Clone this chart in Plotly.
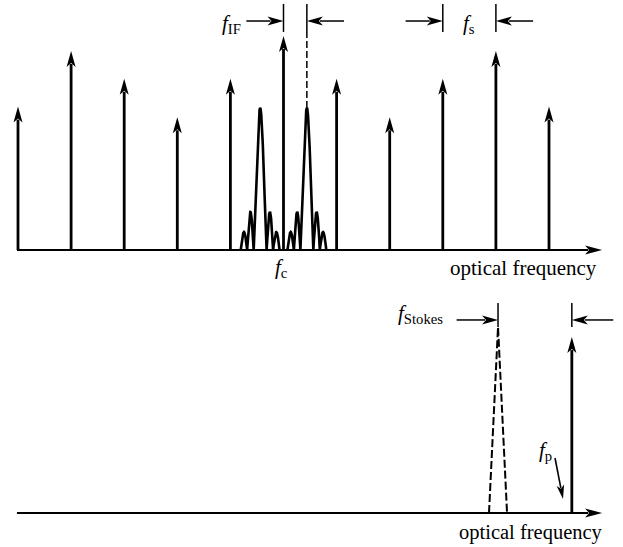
import numpy as np
import plotly.graph_objects as go

# ---- top panel: optical frequency comb (x in units of the comb spacing f_s) ----
comb_pos = [0, 1, 2, 3, 4, 5, 6, 7, 8, 9, 10]
comb_amp = [0.67, 0.93, 0.80, 0.62, 0.80, 1.00, 0.80, 0.62, 0.80, 0.93, 0.67]
f_c = 5.0            # carrier (comb line under the f_c label)
f_IF = 0.44          # intermediate-frequency offset of the two beat spectra
lobe_heights = [0.664, 0.178, 0.084]   # main lobe, 1st and 2nd side lobes
lobe_width = 0.122                     # width of one side lobe
marker_low, marker_high, marker_arrow_y = 1.019, 1.15, 1.07
marker_arrow_len = 0.70

# ---- bottom panel: Brillouin pump and Stokes line ----
f_p = 10.43
pump_amp = 0.822
f_stokes = 9.04
stokes_amp = 0.869
stokes_halfwidth = 0.17
b_marker_low, b_marker_high, b_marker_arrow_y = 0.869, 0.981, 0.902
b_marker_arrow_len = 0.78

axis_start, axis_end = -0.02, 11.0

PX_X = 53.1     # pixels per frequency unit
PX_Y = 214.0    # pixels per amplitude unit
FONT = "Liberation Serif"
BLACK = "#000000"

fig = go.Figure()


def line(xs, ys, panel, width=2.5, dash=None):
    fig.add_trace(go.Scatter(
        x=xs, y=ys, mode="lines", xaxis="x" if panel == 1 else "x2",
        yaxis="y" if panel == 1 else "y2", hoverinfo="skip", showlegend=False,
        line=dict(color=BLACK, width=width, dash=dash, shape="linear")))


def head(x, y, panel, angle, length=16.0, half=4.5, notch=4.0):
    """Filled arrowhead with its tip at (x, y); angle in degrees (0 = right, 90 = up)."""
    pts = [(0, 0), (-length, half), (-length + notch, 0), (-length, -half)]
    a = np.radians(angle)
    c, s = np.cos(a), np.sin(a)
    rot = [(px * c - py * s, px * s + py * c) for px, py in pts]
    path = "M" + " L".join(f"{px:.2f},{py:.2f}" for px, py in rot) + " Z"
    fig.add_shape(type="path", xref="x" if panel == 1 else "x2",
                  yref="y" if panel == 1 else "y2",
                  xsizemode="pixel", ysizemode="pixel", xanchor=x, yanchor=y,
                  path=path, fillcolor=BLACK, line=dict(width=0), layer="above")


def arrow(x0, y0, x1, y1, panel, width=2.5, length=16.0, half=4.5, notch=4.0):
    """Line from (x0, y0) to (x1, y1) finished by an arrowhead at the end point."""
    dxp = (x1 - x0) * PX_X
    dyp = (y1 - y0) * PX_Y
    dist = np.hypot(dxp, dyp)
    back = (length - notch) + 1.0
    xe = x1 - (x1 - x0) * back / dist
    ye = y1 - (y1 - y0) * back / dist
    line([x0, xe], [y0, ye], panel, width)
    head(x1, y1, panel, np.degrees(np.arctan2(dyp, dxp)), length, half, notch)


def label(x, y, text, panel, size=20, xanchor="center"):
    fig.add_annotation(x=x, y=y, xref="x" if panel == 1 else "x2",
                       yref="y" if panel == 1 else "y2", text=text, showarrow=False,
                       xanchor=xanchor, yanchor="middle",
                       font=dict(family=FONT, size=size, color=BLACK))


# ---------------- top panel ----------------
arrow(axis_start, 0, axis_end, 0, 1, width=2.0, length=17)
for xp, amp in zip(comb_pos, comb_amp):
    arrow(xp, 0, xp, amp, 1, width=2.8)

# sinc-like beat spectra at f_c - f_IF and f_c + f_IF
n_side = len(lobe_heights) - 1
u = np.linspace(-(n_side + 1), n_side + 1, 1201)
env = np.empty_like(u)
for i, uu in enumerate(u):
    k = int(np.floor(abs(uu)))
    if k == 0:
        env[i] = lobe_heights[0] * np.sinc(uu)
    else:
        env[i] = lobe_heights[min(k, n_side)] * abs(np.sin(np.pi * uu))
for centre in (f_c - f_IF, f_c + f_IF):
    line(list(centre + u * lobe_width), list(env), 1, width=2.6)

# f_IF spacing marker
line([f_c, f_c], [marker_low, marker_high], 1, width=1.5)
line([f_c + f_IF, f_c + f_IF], [marker_low, marker_high], 1, width=1.5)
line([f_c + f_IF, f_c + f_IF], [lobe_heights[0], marker_low], 1, width=1.5, dash="7px,3px")
arrow(f_c - marker_arrow_len, marker_arrow_y, f_c, marker_arrow_y, 1, width=1.5)
arrow(f_c + f_IF + marker_arrow_len, marker_arrow_y, f_c + f_IF, marker_arrow_y, 1, width=1.5)
label(f_c - marker_arrow_len - 0.07, 1.056, "<i>f</i><sub>IF</sub>", 1, size=21, xanchor="right")

# f_s spacing marker between two comb lines
fs_a, fs_b = comb_pos[8], comb_pos[9]
line([fs_a, fs_a], [marker_low, marker_high], 1, width=1.5)
line([fs_b, fs_b], [marker_low, marker_high], 1, width=1.5)
arrow(fs_a - marker_arrow_len, marker_arrow_y, fs_a, marker_arrow_y, 1, width=1.5)
arrow(fs_b + marker_arrow_len, marker_arrow_y, fs_b, marker_arrow_y, 1, width=1.5)
label((fs_a + fs_b) / 2, 1.056, "<i>f</i><sub>s</sub>", 1, size=21)

label(f_c - 0.04, -0.084, "<i>f</i><sub>c</sub>", 1, size=21)
label(10.95, -0.084, "optical frequency", 1, size=21, xanchor="right")

# ---------------- bottom panel ----------------
arrow(axis_start, 0, axis_end, 0, 2, width=2.0, length=17)
arrow(f_p, 0, f_p, pump_amp, 2, width=2.8)

# Stokes line (dashed outline)
line([f_stokes - stokes_halfwidth, f_stokes, f_stokes + stokes_halfwidth],
     [0, stokes_amp, 0], 2, width=2.0, dash="8px,3px")

line([f_stokes, f_stokes], [b_marker_low, b_marker_high], 2, width=1.5)
line([f_p, f_p], [b_marker_low, b_marker_high], 2, width=1.5)
arrow(f_stokes - b_marker_arrow_len, b_marker_arrow_y, f_stokes, b_marker_arrow_y, 2, width=1.5)
arrow(f_p + b_marker_arrow_len, b_marker_arrow_y, f_p, b_marker_arrow_y, 2, width=1.5)
label(f_stokes - b_marker_arrow_len - 0.22, 0.93, "<i>f</i><sub>Stokes</sub>", 2, size=21,
      xanchor="right")

# pump label with pointer
label(9.925, 0.29, "<i>f</i><sub>p</sub>", 2, size=21)
arrow(10.113, 0.257, 10.264, 0.065, 2, width=1.6, length=14, half=3.8, notch=3.5)

label(11.05, -0.093, "optical frequency", 2, size=20.5, xanchor="right")

# ---------------- layout ----------------
x_range = [-18 / PX_X, (623 - 18) / PX_X]
hidden = dict(visible=False, showgrid=False, zeroline=False, fixedrange=True)
split = 1 - 283 / 547
fig.update_layout(
    width=623, height=547, autosize=False,
    margin=dict(l=0, r=0, t=0, b=0, pad=0),
    paper_bgcolor="white", plot_bgcolor="white",
    showlegend=False,
    xaxis=dict(range=x_range, anchor="y", domain=[0, 1], **hidden),
    yaxis=dict(range=[-33 / PX_Y, 250 / PX_Y], domain=[split, 1], anchor="x", **hidden),
    xaxis2=dict(range=x_range, anchor="y2", domain=[0, 1], matches="x", **hidden),
    yaxis2=dict(range=[-34 / PX_Y, 230 / PX_Y], domain=[0, split], anchor="x2", **hidden),
)

fig.write_html("out.html")
